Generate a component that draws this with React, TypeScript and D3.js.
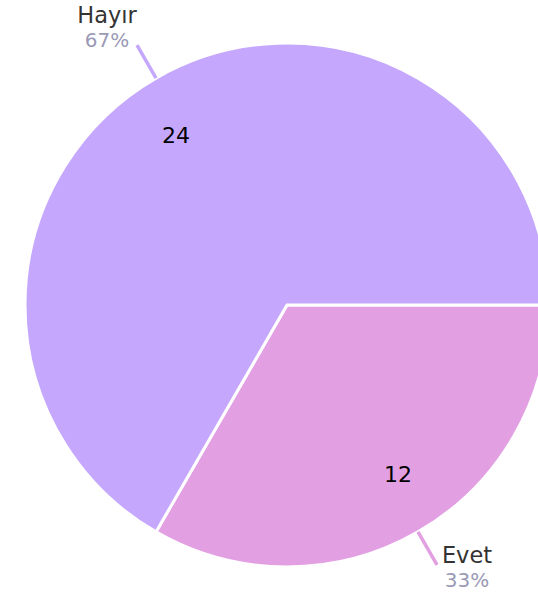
import React from "react";
import * as d3 from "d3";

const categories = ["Evet", "Hayır"];
const values = [12, 24];
const colors = ["#e29fe2", "#c5a8fd"];

const W = 538;
const H = 597;
const CX = 287;
const CY = 305;
const R = 262;

export default function App() {
  const total = d3.sum(values);
  const pie = d3
    .pie<number>()
    .sort(null)
    .startAngle(Math.PI / 2)
    .endAngle(Math.PI / 2 + 2 * Math.PI)
    .value((d) => d);
  const arcs = pie(values);
  const arc = d3.arc<d3.PieArcDatum<number>>().innerRadius(0).outerRadius(R);
  const pt = (a: number, r: number) => [Math.sin(a) * r, -Math.cos(a) * r];

  return (
    <svg
      width={W}
      height={H}
      style={{ position: "absolute", left: 0, top: 0, display: "block" }}
      fontFamily="DejaVu Sans, Verdana, sans-serif"
    >
      <g transform={`translate(${CX},${CY})`}>
        {arcs.map((a, i) => (
          <path key={i} d={arc(a) || ""} fill={colors[i]} stroke="#fff" strokeWidth={3} strokeLinejoin="miter" />
        ))}
        {arcs.map((a, i) => {
          const mid = (a.startAngle + a.endAngle) / 2;
          const [x1, y1] = pt(mid, R);
          const [x2, y2] = pt(mid, R + 38);
          const [ix, iy] = pt(mid - 0.055, 203);
          const right = x2 > 0;
          const lower = y2 > 0;
          const lx = x2 + (right ? 30 : -30);
          const nameY = lower ? y2 - 2 : y2 - 22;
          const pct = Math.round((values[i] / total) * 100) + "%";
          return (
            <g key={"l" + i}>
              <line x1={x1} y1={y1} x2={x2} y2={y2} stroke={colors[i]} strokeWidth={3.5} />
              <text x={ix} y={iy} textAnchor="middle" dominantBaseline="central" fontSize={22} fill="#000">
                {values[i]}
              </text>
              <text x={lx} y={nameY} textAnchor="middle" fontSize={22.5} fill="#333">
                {categories[i]}
              </text>
              <text x={lx} y={nameY + 24} textAnchor="middle" fontSize={20} fill="#9a9ab6">
                {pct}
              </text>
            </g>
          );
        })}
      </g>
    </svg>
  );
}
